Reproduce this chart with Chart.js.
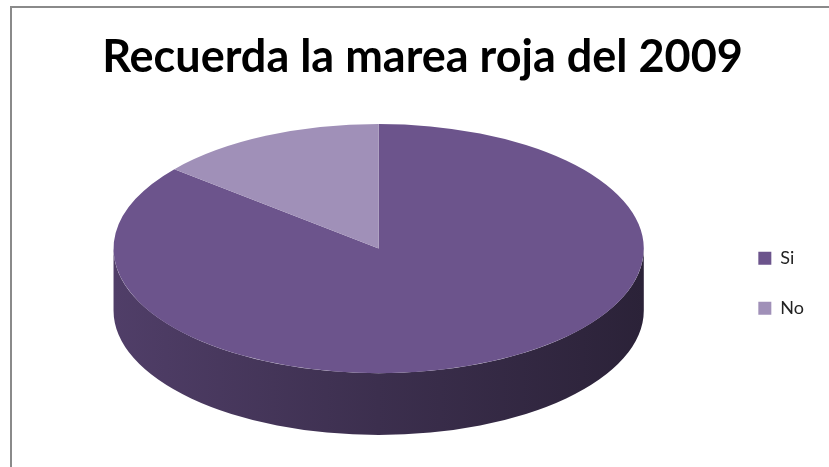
<!DOCTYPE html>
<html>
<head>
<meta charset="utf-8">
<script src="https://cdn.jsdelivr.net/npm/chart.js@4/dist/chart.umd.min.js"></script>
<style>
  body { margin: 0; background: #fff; }
  #wrap { position: relative; width: 829px; height: 467px; overflow: hidden; }
  #frame { position: absolute; left: 10px; top: 6px; width: 900px; height: 600px;
           border-left: 2px solid #8a8a8a; border-top: 2px solid #8a8a8a; pointer-events: none; }
</style>
</head>
<body>
<div id="wrap">
  <canvas id="chart" width="829" height="467"></canvas>
  <div id="frame"></div>
</div>
<script>
const categories = ["Si", "No"];
const values = [86, 14];
const sliceColors = ["#6c548c", "#a090b8"];

// tilt of the top face and height of the side, relative to the horizontal radius
const tilt = 0.47;
const depthRatio = 0.233;

function shade(hex, f) {
  const n = parseInt(hex.slice(1), 16);
  const r = Math.round(((n >> 16) & 255) * f);
  const g = Math.round(((n >> 8) & 255) * f);
  const b = Math.round((n & 255) * f);
  return "rgb(" + r + "," + g + "," + b + ")";
}

// squash the pie into an ellipse and draw the visible side band below it
const pie3d = {
  id: "pie3d",
  beforeDatasetsDraw(chart) {
    const ctx = chart.ctx;
    const a = chart.chartArea;
    const arcs = chart.getDatasetMeta(0).data;
    if (!arcs.length) return;
    const r = arcs[0].outerRadius;
    const rx = Math.min(a.width / 2, a.height / (2 * tilt + depthRatio));
    const ry = rx * tilt;
    const depth = rx * depthRatio;
    const cx = (a.left + a.right) / 2;
    const cy = a.top + ry;

    arcs.forEach((arc, i) => {
      const s = arc.startAngle, e = arc.endAngle;
      [-2 * Math.PI, 0, 2 * Math.PI].forEach((k) => {
        const a0 = Math.max(s, k), a1 = Math.min(e, k + Math.PI);
        if (a1 <= a0) return;
        ctx.save();
        ctx.beginPath();
        ctx.ellipse(cx, cy, rx, ry, 0, a0, a1, false);
        ctx.ellipse(cx, cy + depth, rx, ry, 0, a1, a0, true);
        ctx.closePath();
        const g = ctx.createLinearGradient(cx - rx, 0, cx + rx, 0);
        const base = sliceColors[i % sliceColors.length];
        g.addColorStop(0, shade(base, 0.74));
        g.addColorStop(0.5, shade(base, 0.56));
        g.addColorStop(1, shade(base, 0.4));
        ctx.fillStyle = g;
        ctx.fill();
        ctx.restore();
      });
    });

    ctx.save();
    ctx.translate(cx, cy);
    ctx.scale(rx / r, ry / r);
    ctx.translate(-arcs[0].x, -arcs[0].y);
  },
  afterDatasetsDraw(chart) {
    chart.ctx.restore();
  }
};

new Chart(document.getElementById("chart"), {
  type: "pie",
  data: {
    labels: categories,
    datasets: [{
      data: values,
      backgroundColor: sliceColors,
      borderWidth: 0,
      clip: false
    }]
  },
  options: {
    responsive: false,
    animation: false,
    layout: { padding: { left: 31, right: 15, top: 0, bottom: 32 } },
    plugins: {
      title: {
        display: true,
        text: "Recuerda la marea roja del 2009",
        color: "#000",
        font: { family: "Lato", size: 45, weight: "bold" },
        padding: { top: 30, bottom: 40 }
      },
      legend: {
        position: "right",
        title: {
          display: true,
          text: " ",
          font: { family: "Lato", size: 18 },
          padding: { top: 110, bottom: 0 }
        },
        labels: {
          boxWidth: 13,
          boxHeight: 13,
          padding: 32,
          color: "#222",
          font: { family: "Lato", size: 18 }
        }
      },
      tooltip: { enabled: false }
    }
  },
  plugins: [pie3d]
});
</script>
</body>
</html>
